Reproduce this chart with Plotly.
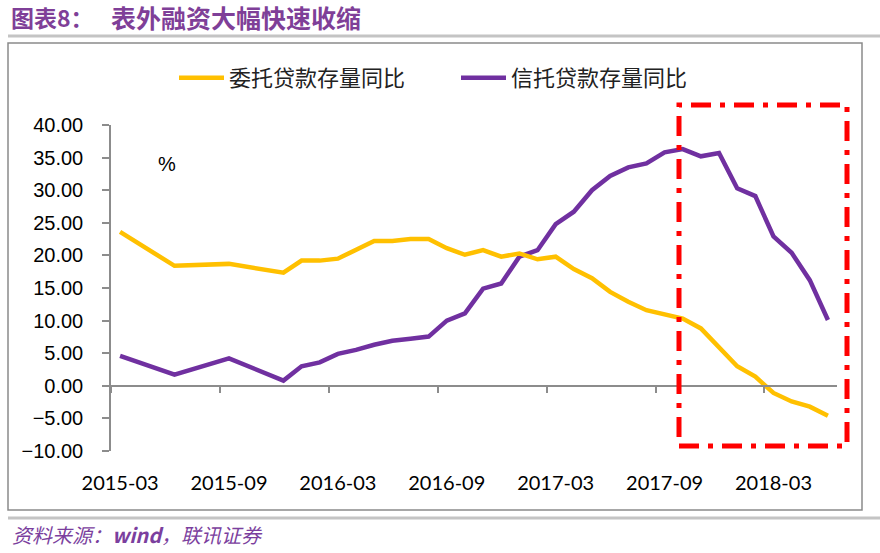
import plotly.graph_objects as go

# ---------------- data ----------------
months = ["2015-03", "2015-06", "2015-09", "2015-12",
          "2016-01", "2016-02", "2016-03", "2016-04", "2016-05", "2016-06",
          "2016-07", "2016-08", "2016-09", "2016-10", "2016-11", "2016-12",
          "2017-01", "2017-02", "2017-03", "2017-04", "2017-05", "2017-06",
          "2017-07", "2017-08", "2017-09", "2017-10", "2017-11", "2017-12",
          "2018-01", "2018-02", "2018-03", "2018-04", "2018-05", "2018-06"]
entrusted = [23.6, 18.4, 18.7, 17.35,
             19.2, 19.2, 19.5, 20.9, 22.2, 22.2,
             22.5, 22.5, 21.1, 20.1, 20.8, 19.8,
             20.3, 19.4, 19.8, 17.9, 16.5, 14.4,
             12.9, 11.6, 10.9, 10.3, 8.8, 6.0,
             3.0, 1.4, -1.1, -2.4, -3.2, -4.6]
trust = [4.6, 1.7, 4.2, 0.8,
         3.0, 3.6, 4.9, 5.5, 6.3, 6.9,
         7.2, 7.55, 10.0, 11.1, 14.9, 15.7,
         19.8, 20.8, 24.8, 26.7, 30.0, 32.2,
         33.5, 34.1, 35.8, 36.3, 35.2, 35.7,
         30.3, 29.1, 22.9, 20.4, 16.2, 10.1]
tick_labels = ["2015-03", "2015-09", "2016-03", "2016-09", "2017-03", "2017-09", "2018-03"]
series_names = ["委托贷款存量同比", "信托贷款存量同比"]

def midx(s):
    y, m = s.split("-")
    return (int(y) - 2015) * 12 + int(m) - 3

x_idx = [midx(m) for m in months]
label_pos = [midx(t) for t in tick_labels]
n_months = midx(months[-1]) + 1
boundaries = [p - 0.5 for p in label_pos]

# ---------------- layout helpers ----------------
W, H = 880, 553
L, R, T, B = 111, 43, 125, 102
PW, PH = W - L - R, H - T - B

def px(xp):
    return (xp - L) / PW

def py(yp):
    return 1 - (yp - T) / PH

YELLOW = "#FFC000"
PURPLE = "#7030A0"
GRAY = "#8C8C8C"

fig = go.Figure()
fig.add_trace(go.Scatter(x=x_idx, y=entrusted, mode="lines", name=series_names[0],
                         line=dict(color=YELLOW, width=4.5), xaxis="x2",
                         legend="legend"))
fig.add_trace(go.Scatter(x=x_idx, y=trust, mode="lines", name=series_names[1],
                         line=dict(color=PURPLE, width=4.5),
                         legend="legend2"))

xr = [-0.5, n_months - 0.5]
fig.update_layout(
    width=W, height=H,
    margin=dict(l=L, r=R, t=T, b=B),
    paper_bgcolor="white", plot_bgcolor="white",
    showlegend=True,
    xaxis=dict(range=xr, tickmode="array", tickvals=label_pos, ticktext=tick_labels,
               ticks="", showline=False, showgrid=False, zeroline=False,
               ticklabelstandoff=18,
               tickfont=dict(family="Lato", size=20, color="#000000")),
    xaxis2=dict(range=xr, overlaying="x", anchor="free", position=0.2,
                tickmode="array", tickvals=boundaries, showticklabels=False,
                ticks="outside", ticklen=6, tickwidth=1.5, tickcolor=GRAY,
                showline=True, linecolor=GRAY, linewidth=1.5,
                showgrid=False, zeroline=False),
    yaxis=dict(range=[-10, 40], dtick=5, tick0=0, tickformat=".2f",
               ticks="outside", ticklen=7, tickwidth=1.5, tickcolor=GRAY,
               showline=True, linecolor=GRAY, linewidth=1.5,
               showgrid=False, zeroline=False, ticklabelstandoff=15,
               tickfont=dict(family="Liberation Sans", size=20, color="#000000")),
    legend=dict(orientation="h", x=px(174), xanchor="left", y=py(78), yanchor="middle",
                font=dict(family="Noto Sans CJK SC", size=22, color="#222222"),
                itemwidth=45, bgcolor="rgba(0,0,0,0)"),
    legend2=dict(orientation="h", x=px(456), xanchor="left", y=py(78), yanchor="middle",
                 font=dict(family="Noto Sans CJK SC", size=22, color="#222222"),
                 itemwidth=45, bgcolor="rgba(0,0,0,0)"),
)

# red dash-dot highlight box
fig.add_shape(type="rect", xref="paper", yref="paper",
              x0=px(679), x1=px(847), y0=py(446), y1=py(105),
              line=dict(color="#FF0000", width=5, dash="20px,9px,5px,9px"))

# chart frame, title rule, footer rule
fig.add_shape(type="rect", xref="paper", yref="paper",
              x0=px(8), x1=px(862), y0=py(510), y1=py(43),
              line=dict(color="#8A8A8A", width=1.5), layer="below")
fig.add_shape(type="line", xref="paper", yref="paper",
              x0=px(8), x1=px(880), y0=py(36), y1=py(36),
              line=dict(color="#C4C4C4", width=3))
fig.add_shape(type="line", xref="paper", yref="paper",
              x0=px(8), x1=px(880), y0=py(518), y1=py(518),
              line=dict(color="#C4C4C4", width=3))

# title
fig.add_annotation(xref="paper", yref="paper", x=px(9), y=py(17), xanchor="left", yanchor="middle",
                   text="<b>图表8：</b>", showarrow=False,
                   font=dict(family="Noto Sans CJK SC", size=23, color="#7F3F98"))
fig.add_annotation(xref="paper", yref="paper", x=px(109), y=py(17), xanchor="left", yanchor="middle",
                   text="<b>表外融资大幅快速收缩</b>", showarrow=False,
                   font=dict(family="Noto Sans CJK SC", size=25, color="#7F3F98"))
# unit
fig.add_annotation(xref="paper", yref="paper", x=px(167), y=py(164), xanchor="center", yanchor="middle",
                   text="%", showarrow=False,
                   font=dict(family="Liberation Sans", size=20, color="#000000"))
# source
fig.add_annotation(xref="paper", yref="paper", x=px(10), y=py(534), xanchor="left", yanchor="middle",
                   text="<i>资料来源：<b>wind</b>，联讯证券</i>", showarrow=False,
                   font=dict(family="Noto Sans CJK SC", size=20, color="#7B3F9E"))

fig.write_html("out.html", config={"displayModeBar": False},
               post_script="document.body.style.margin='0';document.body.style.padding='0';")
